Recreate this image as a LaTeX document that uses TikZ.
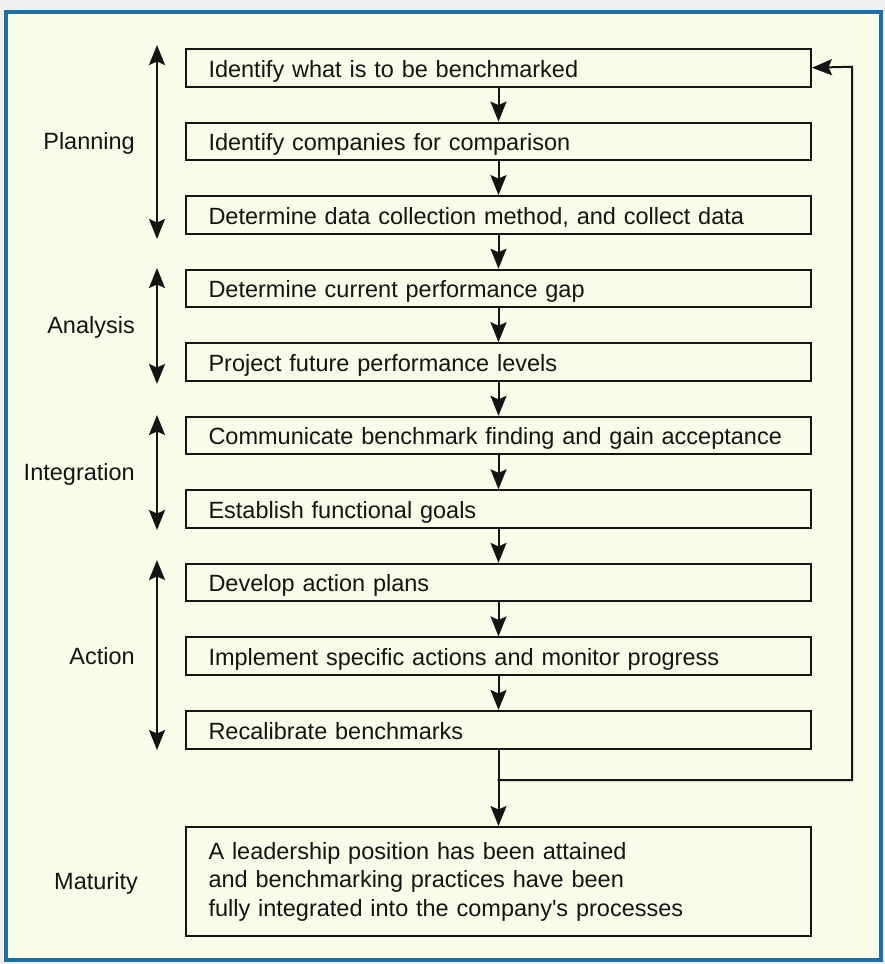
\documentclass[tikz,border=0pt]{standalone}
\usepackage{fontspec}
\newfontfamily\diagfont{Liberation Sans}
\usetikzlibrary{arrows.meta}
\definecolor{outerbg}{HTML}{F0F0F0}
\definecolor{cream}{HTML}{FBFBEA}
\definecolor{frameblue}{HTML}{1D6EA5}
\definecolor{ink}{HTML}{141414}
\tikzset{
  boxbase/.style={draw=ink, line width=2pt, fill=cream, anchor=north west,
    text width=580pt, inner xsep=22.5pt, inner ysep=0pt, align=left,
    font=\diagfont\fontsize{23.5}{28.5}\selectfont, text=ink},
  stepbox/.style={boxbase, minimum height=37.5pt, text height=18.5pt, text depth=0pt},
  matbox/.style={boxbase, minimum height=109pt},
  phaselabel/.style={anchor=base east, inner sep=0pt,
    font=\diagfont\fontsize{23.5}{28.5}\selectfont, text=ink},
  flow/.style={draw=ink, line width=2pt, -{Stealth[length=20pt, width=16pt, inset=3.5pt]}},
  span/.style={draw=ink, line width=2pt,
    {Stealth[length=20pt, width=16pt, inset=3.5pt]}-{Stealth[length=20pt, width=16pt, inset=3.5pt]}},
}
\begin{document}
\begin{tikzpicture}[x=1pt, y=-1pt]
\useasboundingbox (0,0) rectangle (885,964);
\fill[outerbg] (0,0) rectangle (885,964);
\draw[frameblue, line width=4pt, fill=cream] (6,12) rectangle (881,960);

% step boxes
\node[stepbox] (b1) at (185,48) {Identify what is to be benchmarked};
\node[stepbox] (b2) at (185,121.6) {Identify companies for comparison};
\node[stepbox] (b3) at (185,195.1) {Determine data collection method, and collect data};
\node[stepbox] (b4) at (185,268.7) {Determine current performance gap};
\node[stepbox] (b5) at (185,342.2) {Project future performance levels};
\node[stepbox] (b6) at (185,415.8) {Communicate benchmark finding and gain acceptance};
\node[stepbox] (b7) at (185,489.3) {Establish functional goals};
\node[stepbox] (b8) at (185,562.9) {Develop action plans};
\node[stepbox] (b9) at (185,636.4) {Implement specific actions and monitor progress};
\node[stepbox] (b10) at (185,710) {Recalibrate benchmarks};
\node[matbox] (mat) at (185,826)
  {A leadership position has been attained\\and benchmarking practices have been\\fully integrated into the company's processes};

% phase labels
\node[phaselabel] (lplan) at (135,149.6) {Planning};
\node[phaselabel] (lana) at (135,333.5) {Analysis};
\node[phaselabel] (lint) at (135,480.5) {Integration};
\node[phaselabel] (lact) at (135,664.4) {Action};
\node[phaselabel] (lmat) at (138,889) {Maturity};

% phase span arrows
\coordinate (p1t) at (157,45);  \coordinate (p1b) at (157,239);
\coordinate (p2t) at (157,268); \coordinate (p2b) at (157,384);
\coordinate (p3t) at (157,415); \coordinate (p3b) at (157,530);
\coordinate (p4t) at (157,560); \coordinate (p4b) at (157,750);
\draw[span] (p1t) -- (p1b);
\draw[span] (p2t) -- (p2b);
\draw[span] (p3t) -- (p3b);
\draw[span] (p4t) -- (p4b);

% flow arrows
\draw[flow] (b1.south) -- (b2.north);
\draw[flow] (b2.south) -- (b3.north);
\draw[flow] (b3.south) -- (b4.north);
\draw[flow] (b4.south) -- (b5.north);
\draw[flow] (b5.south) -- (b6.north);
\draw[flow] (b6.south) -- (b7.north);
\draw[flow] (b7.south) -- (b8.north);
\draw[flow] (b8.south) -- (b9.north);
\draw[flow] (b9.south) -- (b10.north);
\draw[flow] (b10.south) -- (mat.north);

% feedback loop
\coordinate (fj) at (497.5,780);
\coordinate (fr) at (852,780);
\coordinate (ft) at (852,66.75);
\draw[flow, line join=miter] (fj) -- (fr) -- (ft) -- (b1.east);
\end{tikzpicture}
\end{document}
